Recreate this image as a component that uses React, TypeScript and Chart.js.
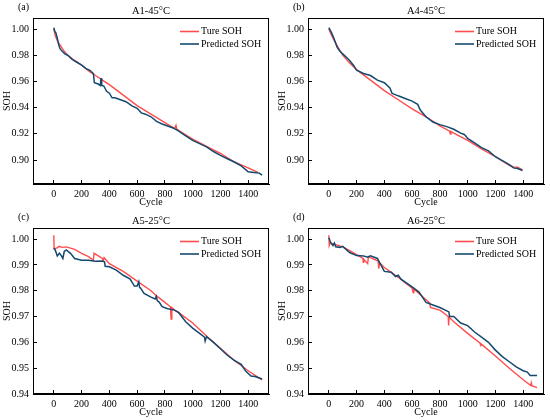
import { useEffect, useRef } from "react";
import { Chart, registerables } from "chart.js";

Chart.register(...registerables);

// (a) A1-45°C
const aTrueCycle = [0, 10, 25, 50, 75, 100, 150, 200, 250, 300, 350, 400, 500, 600, 700, 800, 870, 880, 885, 900, 1000, 1100, 1200, 1300, 1400, 1470];
const aTrueSoh = [1.0, 0.995, 0.991, 0.987, 0.983, 0.98, 0.976, 0.9725, 0.968, 0.9645, 0.961, 0.9575, 0.9495, 0.9415, 0.935, 0.9285, 0.924, 0.9265, 0.9238, 0.9225, 0.916, 0.9105, 0.905, 0.8985, 0.894, 0.8905];
const aPredCycle = [0, 8, 15, 25, 35, 45, 60, 80, 100, 130, 160, 200, 230, 260, 285, 292, 320, 335, 340, 345, 360, 380, 400, 420, 440, 480, 520, 560, 600, 630, 660, 700, 740, 780, 820, 860, 900, 950, 1000, 1050, 1100, 1150, 1200, 1250, 1300, 1350, 1400, 1440, 1480, 1500];
const aPredSoh = [1.001, 0.998, 0.997, 0.993, 0.988, 0.985, 0.983, 0.981, 0.98, 0.977, 0.975, 0.9725, 0.97, 0.9685, 0.966, 0.959, 0.958, 0.957, 0.9625, 0.957, 0.9565, 0.9525, 0.951, 0.9475, 0.9475, 0.946, 0.9445, 0.9415, 0.9395, 0.936, 0.935, 0.933, 0.9295, 0.9275, 0.926, 0.9245, 0.922, 0.9185, 0.915, 0.9125, 0.91, 0.9065, 0.9035, 0.901, 0.8985, 0.8955, 0.891, 0.8905, 0.89, 0.8885];

// (b) A4-45°C
const bTrueCycle = [0, 25, 50, 100, 150, 200, 300, 400, 500, 600, 700, 800, 870, 875, 880, 900, 1000, 1100, 1200, 1300, 1330, 1360, 1395];
const bTrueSoh = [1.0, 0.994, 0.989, 0.98, 0.974, 0.969, 0.961, 0.953, 0.946, 0.939, 0.933, 0.926, 0.922, 0.9198, 0.9218, 0.9205, 0.915, 0.9085, 0.9025, 0.896, 0.8948, 0.8945, 0.8925];
const bPredCycle = [0, 20, 40, 60, 80, 100, 130, 150, 180, 200, 250, 300, 350, 400, 440, 455, 465, 500, 550, 600, 640, 660, 700, 750, 800, 850, 900, 950, 975, 985, 1000, 1050, 1100, 1150, 1200, 1250, 1300, 1330, 1360, 1395];
const bPredSoh = [1.001, 0.997, 0.992, 0.986, 0.983, 0.981, 0.978, 0.976, 0.972, 0.9685, 0.966, 0.9645, 0.961, 0.959, 0.955, 0.951, 0.9505, 0.949, 0.947, 0.945, 0.9425, 0.938, 0.933, 0.929, 0.927, 0.9255, 0.9235, 0.9205, 0.9195, 0.9185, 0.9165, 0.913, 0.9095, 0.907, 0.9025, 0.8995, 0.8965, 0.894, 0.8935, 0.892];

// (c) A5-25°C
const cTrueCycle = [0, 2, 20, 40, 60, 90, 150, 200, 250, 285, 290, 350, 356, 362, 400, 500, 600, 700, 740, 800, 840, 845, 850, 870, 900, 1000, 1100, 1200, 1300, 1400, 1500];
const cTrueSoh = [1.0015, 0.9963, 0.9965, 0.9972, 0.9968, 0.997, 0.996, 0.9945, 0.9932, 0.9918, 0.9945, 0.9925, 0.9918, 0.9928, 0.9905, 0.9875, 0.9837, 0.98, 0.978, 0.9755, 0.9738, 0.969, 0.9735, 0.9725, 0.9715, 0.9675, 0.9625, 0.9577, 0.953, 0.949, 0.9455];
const cPredCycle = [0, 10, 25, 40, 55, 65, 75, 90, 120, 150, 200, 250, 300, 350, 365, 370, 400, 450, 500, 550, 580, 600, 612, 618, 625, 650, 700, 730, 738, 745, 760, 780, 820, 870, 900, 950, 1000, 1050, 1085, 1090, 1100, 1150, 1200, 1250, 1300, 1350, 1380, 1420, 1450, 1500];
const cPredSoh = [0.9965, 0.9958, 0.9935, 0.9945, 0.9935, 0.9925, 0.9952, 0.9958, 0.9945, 0.9925, 0.9918, 0.9918, 0.9914, 0.9915, 0.9912, 0.9895, 0.9893, 0.988, 0.986, 0.9845, 0.9818, 0.9818, 0.9835, 0.9812, 0.981, 0.979, 0.9775, 0.9768, 0.9778, 0.9762, 0.9755, 0.9738, 0.973, 0.9725, 0.9715, 0.968, 0.9655, 0.9635, 0.962, 0.9605, 0.9622, 0.96, 0.9575, 0.955, 0.953, 0.9515, 0.949, 0.947, 0.9468, 0.9458];

// (d) A6-25°C
const dTrueCycle = [0, 3, 10, 50, 100, 150, 200, 245, 248, 252, 280, 285, 300, 355, 360, 365, 400, 500, 600, 608, 612, 700, 728, 732, 800, 860, 863, 866, 900, 1000, 1090, 1093, 1096, 1200, 1300, 1400, 1455, 1458, 1461, 1500];
const dTrueSoh = [1.0015, 0.9975, 0.9985, 0.9978, 0.997, 0.9955, 0.994, 0.9925, 0.991, 0.9922, 0.9905, 0.9932, 0.9928, 0.9915, 0.9885, 0.9908, 0.989, 0.9852, 0.981, 0.9792, 0.9807, 0.9765, 0.9752, 0.9735, 0.9725, 0.97, 0.9665, 0.9698, 0.968, 0.9635, 0.9597, 0.9585, 0.9595, 0.9547, 0.95, 0.9455, 0.9433, 0.9442, 0.9432, 0.9425];
const dPredCycle = [0, 15, 30, 40, 50, 80, 100, 150, 200, 250, 280, 300, 350, 365, 400, 450, 480, 500, 520, 600, 650, 700, 750, 800, 850, 865, 870, 900, 950, 1000, 1050, 1100, 1150, 1200, 1250, 1300, 1350, 1400, 1430, 1450, 1500];
const dPredSoh = [1.0005, 0.9985, 0.9975, 0.9985, 0.997, 0.9968, 0.9972, 0.9948, 0.9936, 0.9935, 0.993, 0.9935, 0.9925, 0.991, 0.9875, 0.9872, 0.9855, 0.986, 0.9845, 0.9815, 0.9795, 0.9755, 0.9745, 0.9735, 0.9722, 0.9718, 0.97, 0.97, 0.9675, 0.9665, 0.964, 0.962, 0.96, 0.957, 0.9545, 0.9525, 0.9505, 0.949, 0.9485, 0.9472, 0.9472];

const seriesLabels = ["Ture SOH", "Predicted SOH"];
const RED = "#ff4d4d";
const BLUE = "#14496f";
const FONT = '"Liberation Serif", "Times New Roman", serif';

interface PanelProps {
  tag: string;
  title: string;
  trueCycle: number[];
  trueSoh: number[];
  predCycle: number[];
  predSoh: number[];
  yMin: number;
  yMax: number;
  yStep: number;
}

// frame, panel title, panel letter and the in-plot legend
const panelDecor = {
  id: "panelDecor",
  afterDatasetsDraw(chart: any, _args: any, opts: any) {
    const { ctx, chartArea } = chart;
    const { left, right, top, bottom } = chartArea;
    ctx.save();
    ctx.strokeStyle = "#000";
    ctx.lineWidth = 1;
    ctx.strokeRect(Math.round(left) + 0.5, Math.round(top) + 0.5, Math.round(right - left) - 1, Math.round(bottom - top) - 1);

    ctx.fillStyle = "#000";
    ctx.textBaseline = "middle";
    ctx.font = `10.5px ${FONT}`;
    ctx.textAlign = "center";
    ctx.fillText(opts.title, (left + right) / 2, 11);
    ctx.font = `10px ${FONT}`;
    ctx.textAlign = "left";
    ctx.fillText(opts.tag, 18, 7.5);

    const rows = [top + 13.5, top + 26];
    chart.data.datasets.forEach((ds: any, i: number) => {
      const y = rows[i];
      ctx.strokeStyle = ds.borderColor;
      ctx.lineWidth = 1.6;
      ctx.beginPath();
      ctx.moveTo(right - 89, y);
      ctx.lineTo(right - 70, y);
      ctx.stroke();
      ctx.fillText(ds.label, right - 68, y);
    });
    ctx.restore();
  },
};

const Panel: React.FC<PanelProps> = (p) => {
  const canvasRef = useRef<HTMLCanvasElement | null>(null);

  useEffect(() => {
    if (!canvasRef.current) return;
    const chart = new Chart(canvasRef.current, {
      type: "line",
      data: {
        datasets: [
          {
            label: seriesLabels[0],
            data: p.trueCycle.map((c, i) => ({ x: c, y: p.trueSoh[i] })),
            borderColor: RED,
            borderWidth: 1.4,
            order: 2,
          },
          {
            label: seriesLabels[1],
            data: p.predCycle.map((c, i) => ({ x: c, y: p.predSoh[i] })),
            borderColor: BLUE,
            borderWidth: 1.5,
            order: 1,
          },
        ],
      },
      options: {
        animation: false,
        responsive: true,
        maintainAspectRatio: false,
        layout: { padding: { top: 18, right: 6, left: 0, bottom: 0 } },
        elements: { point: { radius: 0 }, line: { tension: 0 } },
        plugins: {
          legend: { display: false },
          tooltip: { enabled: false },
          panelDecor: { title: p.title, tag: p.tag },
        } as any,
        scales: {
          x: {
            type: "linear",
            min: -150,
            max: 1550,
            afterFit: (s: any) => {
              s.height = 26;
            },
            grid: { drawOnChartArea: false, tickLength: -4, color: "#000" },
            border: { color: "#000" },
            ticks: {
              stepSize: 200,
              includeBounds: false,
              padding: 8,
              maxRotation: 0,
              color: "#000",
              font: { size: 10 },
              callback: (v: any) => String(v),
            },
            title: { display: true, text: "Cycle", color: "#000", font: { size: 10 }, padding: { top: 0, bottom: 2 } },
          },
          y: {
            min: p.yMin,
            max: p.yMax,
            afterFit: (s: any) => {
              s.width = 33;
            },
            grid: { drawOnChartArea: false, tickLength: -4, color: "#000" },
            border: { color: "#000" },
            ticks: {
              stepSize: p.yStep,
              includeBounds: false,
              padding: 8,
              color: "#000",
              font: { size: 10 },
              callback: (v: any) => Number(v).toFixed(2),
            },
            title: { display: true, text: "SOH", color: "#000", font: { size: 10 }, padding: { top: 1, bottom: 0 } },
          },
        },
      },
      plugins: [panelDecor],
    });
    return () => chart.destroy();
  }, [p]);

  return (
    <div style={{ position: "relative", width: 275, height: 210 }}>
      <canvas ref={canvasRef} />
    </div>
  );
};

Chart.defaults.font.family = FONT;
Chart.defaults.color = "#000";

export default function App() {
  return (
    <div
      style={{
        position: "absolute",
        left: 0,
        top: 0,
        width: 550,
        height: 420,
        background: "#fff",
        display: "grid",
        gridTemplateColumns: "275px 275px",
        gridTemplateRows: "210px 210px",
      }}
    >
      <Panel tag="(a)" title="A1-45°C" trueCycle={aTrueCycle} trueSoh={aTrueSoh} predCycle={aPredCycle} predSoh={aPredSoh} yMin={0.8817} yMax={1.0084} yStep={0.02} />
      <Panel tag="(b)" title="A4-45°C" trueCycle={bTrueCycle} trueSoh={bTrueSoh} predCycle={bPredCycle} predSoh={bPredSoh} yMin={0.8817} yMax={1.0084} yStep={0.02} />
      <Panel tag="(c)" title="A5-25°C" trueCycle={cTrueCycle} trueSoh={cTrueSoh} predCycle={cPredCycle} predSoh={cPredSoh} yMin={0.94} yMax={1.0043} yStep={0.01} />
      <Panel tag="(d)" title="A6-25°C" trueCycle={dTrueCycle} trueSoh={dTrueSoh} predCycle={dPredCycle} predSoh={dPredSoh} yMin={0.94} yMax={1.0043} yStep={0.01} />
    </div>
  );
}
